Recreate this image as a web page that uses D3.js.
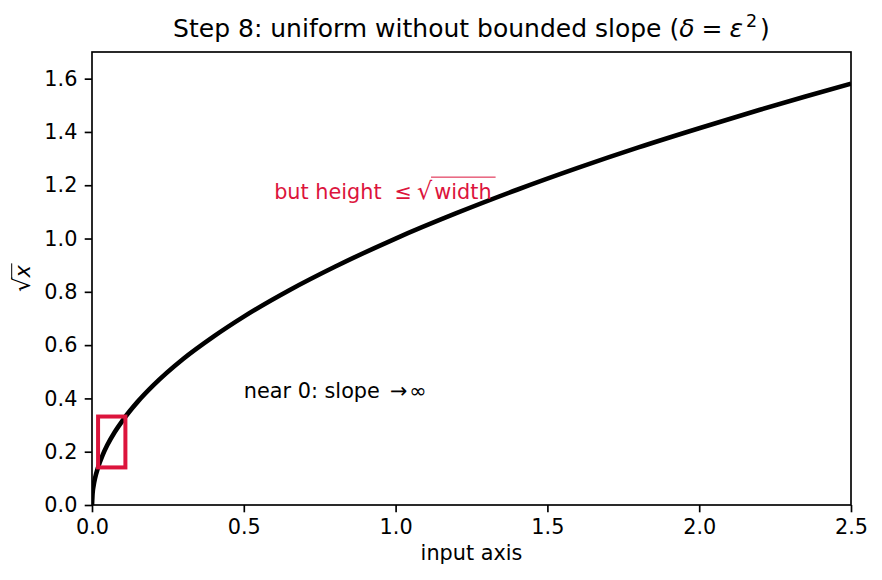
<!DOCTYPE html>
<html>
<head>
<meta charset="utf-8">
<script src="https://cdn.jsdelivr.net/npm/d3@7"></script>
<style>
  body { margin: 0; background: #fff; }
  text { font-family: 'DejaVu Sans', sans-serif; }
</style>
</head>
<body>
<div id="chart"></div>
<script>
// curve points
const curveX = [0, 0.002, 0.005, 0.01, 0.02, 0.035, 0.05, 0.075, 0.1, 0.15, 0.2, 0.3, 0.4, 0.5, 0.65, 0.8, 1.0, 1.2, 1.4, 1.6, 1.8, 2.0, 2.2, 2.35, 2.5];
const curveY = [0, 0.045, 0.071, 0.1, 0.141, 0.187, 0.224, 0.274, 0.316, 0.387, 0.447, 0.548, 0.632, 0.707, 0.806, 0.894, 1.0, 1.095, 1.183, 1.265, 1.342, 1.414, 1.483, 1.533, 1.581];
const boxX = [0.02, 0.11];
const boxY = [0.141, 0.332];
const xTicks = [0, 0.5, 1.0, 1.5, 2.0, 2.5];
const yTicks = [0, 0.2, 0.4, 0.6, 0.8, 1.0, 1.2, 1.4, 1.6];

const fs = 20.8;
const red = '#dc143c';

const dimensions = {
  width  : 882,
  height : 580,
  margin : { top: 52, right: 31, bottom: 75, left: 92 }
};
dimensions.boundedWidth = dimensions.width - dimensions.margin.left - dimensions.margin.right;
dimensions.boundedHeight = dimensions.height - dimensions.margin.top - dimensions.margin.bottom;

const svg = d3.select('#chart').append('svg')
  .attr('width', dimensions.width)
  .attr('height', dimensions.height);

const bounds = svg.append('g')
  .attr('transform', `translate(${dimensions.margin.left}, ${dimensions.margin.top})`);

const x = d3.scaleLinear().domain([0, 2.5]).range([0, dimensions.boundedWidth]);
const y = d3.scaleLinear().domain([0, 1.7]).range([dimensions.boundedHeight, 0]);

bounds.append('defs').append('clipPath').attr('id', 'clip')
  .append('rect').attr('width', dimensions.boundedWidth).attr('height', dimensions.boundedHeight);

// curve
const pts = curveX.map((d, i) => [d, curveY[i]]);
const line = d3.line().x(d => x(d[0])).y(d => y(d[1])).curve(d3.curveMonotoneX);
bounds.append('path')
  .datum(pts)
  .attr('d', line)
  .attr('fill', 'none')
  .attr('stroke', '#000')
  .attr('stroke-width', 4.6)
  .attr('clip-path', 'url(#clip)');

// box
bounds.append('rect')
  .attr('x', x(boxX[0]))
  .attr('y', y(boxY[1]))
  .attr('width', x(boxX[1]) - x(boxX[0]))
  .attr('height', y(boxY[0]) - y(boxY[1]))
  .attr('fill', 'none')
  .attr('stroke', red)
  .attr('stroke-width', 4);

// axes
const xAxis = d3.axisBottom(x).tickValues(xTicks).tickFormat(d3.format('.1f')).tickSizeOuter(0).tickSize(7.3).tickPadding(7.3);
const yAxis = d3.axisLeft(y).tickValues(yTicks).tickFormat(d3.format('.1f')).tickSizeOuter(0).tickSize(7.3).tickPadding(7.3);

const gx = bounds.append('g').attr('transform', `translate(0, ${dimensions.boundedHeight})`).call(xAxis);
const gy = bounds.append('g').call(yAxis);
[gx, gy].forEach(g => {
  g.select('.domain').remove();
  g.selectAll('.tick line').attr('stroke', '#000').attr('stroke-width', 1.67);
  g.selectAll('.tick text').attr('font-size', fs).attr('fill', '#000').attr('font-family', 'DejaVu Sans');
});

// frame
bounds.append('rect')
  .attr('width', dimensions.boundedWidth)
  .attr('height', dimensions.boundedHeight)
  .attr('fill', 'none')
  .attr('stroke', '#000')
  .attr('stroke-width', 1.67);

// annotations
const ann1 = bounds.append('text')
  .attr('x', x(0.6)).attr('y', y(1.15))
  .attr('font-size', fs).attr('fill', red);
ann1.append('tspan').text('but height');
ann1.append('tspan').attr('dx', 13).text('\u2264');
const rad = ann1.append('tspan').attr('dx', 5).attr('font-size', fs * 1.15).text('\u221a');
const w = ann1.append('tspan').attr('dx', 2).text('width');
const rb = rad.node().getBBox();
const wb = w.node().getBBox();
const olY = y(1.15) - fs * 1.03;
bounds.append('line')
  .attr('x1', rb.x + rb.width - 2).attr('x2', wb.x + wb.width + 4)
  .attr('y1', olY).attr('y2', olY)
  .attr('stroke', red).attr('stroke-width', 1);

const ann2 = bounds.append('text')
  .attr('x', x(0.5)).attr('y', y(0.4))
  .attr('font-size', fs).attr('fill', '#000');
ann2.append('tspan').text('near 0: slope');
ann2.append('tspan').attr('dx', 10).text('\u2192');
ann2.append('tspan').attr('dx', 2).text('\u221e');

// title
const title = svg.append('text')
  .attr('x', dimensions.margin.left + dimensions.boundedWidth / 2)
  .attr('y', 37)
  .attr('text-anchor', 'middle')
  .attr('font-size', 25)
  .attr('fill', '#000');
title.append('tspan').text('Step 8: uniform without bounded slope (');
title.append('tspan').attr('font-style', 'italic').text('\u03b4');
title.append('tspan').attr('dx', 7).text('=');
title.append('tspan').attr('dx', 7).attr('font-style', 'italic').text('\u03b5');
title.append('tspan').attr('font-size', 17.5).attr('dy', -10).attr('dx', 3).text('2');
title.append('tspan').attr('dy', 10).attr('dx', 3).text(')');

// x label
svg.append('text')
  .attr('x', dimensions.margin.left + dimensions.boundedWidth / 2)
  .attr('y', 560)
  .attr('text-anchor', 'middle')
  .attr('font-size', fs)
  .text('input axis');

// y label
const yl = svg.append('g').attr('transform', `translate(30, ${dimensions.margin.top + dimensions.boundedHeight / 2}) rotate(-90)`);
const ylt = yl.append('text').attr('text-anchor', 'middle').attr('font-size', fs);
const yr = ylt.append('tspan').attr('font-size', fs * 1.1).text('\u221a');
const yx = ylt.append('tspan').attr('font-style', 'italic').text('x');
const yrb = yr.node().getBBox();
const xb = yx.node().getBBox();
yl.append('line')
  .attr('x1', yrb.x + yrb.width - 2).attr('x2', xb.x + xb.width + 1)
  .attr('y1', -fs * 0.88).attr('y2', -fs * 0.88)
  .attr('stroke', '#000').attr('stroke-width', 1);
</script>
</body>
</html>
